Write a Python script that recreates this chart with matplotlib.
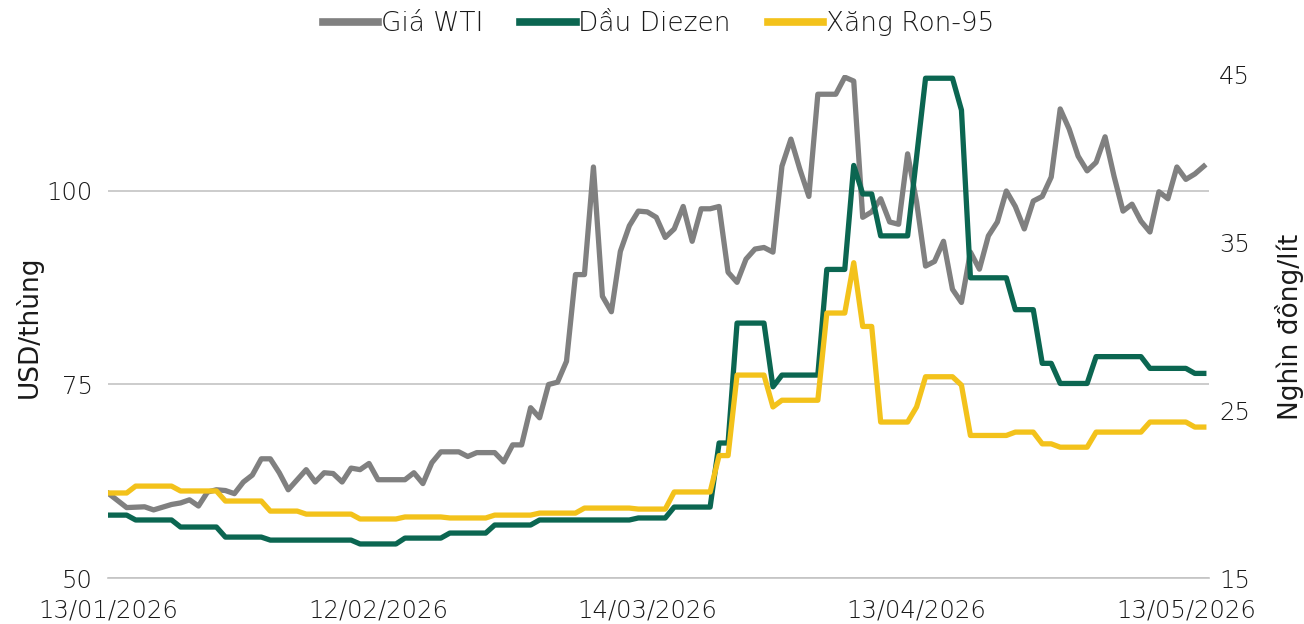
import matplotlib
matplotlib.use("Agg")
import matplotlib.pyplot as plt
import matplotlib.dates as mdates
import pandas as pd

plt.rcParams['font.family'] = ['DejaVu Sans']
plt.rcParams['font.weight'] = 'light'

start = pd.Timestamp('2026-01-13')

# Giá WTI (USD/thùng) - days since 13/01/2026
wti_day = [0, 2, 4, 5, 7, 8, 9, 10, 11, 12, 13, 14, 15, 16, 17, 18, 19, 20, 22, 23,
           24, 25, 26, 27, 28, 29, 30, 33, 34, 35, 36, 37, 39, 40, 41, 43, 44, 45, 46, 47,
           48, 49, 50, 51, 52, 53, 54, 55, 56, 57, 58, 59, 60, 61, 62, 63, 64, 65, 66, 67,
           68, 69, 70, 71, 72, 73, 74, 75, 76, 77, 78, 79, 81, 82, 83, 84, 85, 86, 87, 88,
           89, 90, 91, 92, 93, 94, 95, 96, 97, 98, 99, 100, 101, 102, 103, 104, 105, 106, 107, 108,
           109, 110, 111, 112, 113, 114, 115, 116, 117, 118, 119, 120, 121, 122]
wti = [60.9, 59.1, 59.2, 58.8, 59.5, 59.7, 60.1, 59.3, 61.1, 61.4, 61.3, 60.9, 62.4, 63.3, 65.4, 65.4, 63.6, 61.4, 64.0, 62.4,
       63.6, 63.5, 62.4, 64.2, 64.0, 64.8, 62.7, 62.7, 63.6, 62.2, 64.9, 66.3, 66.3, 65.7, 66.2, 66.2, 65.0, 67.2, 67.2, 72.0,
       70.7, 75.0, 75.3, 78.0, 89.2, 89.2, 103.1, 86.4, 84.4, 92.2, 95.5, 97.4, 97.3, 96.6, 94.0, 95.1, 98.0, 93.5, 97.7, 97.7,
       98.0, 89.5, 88.2, 91.2, 92.5, 92.7, 92.1, 103.2, 106.7, 102.8, 99.3, 112.5, 112.5, 114.7, 114.2, 96.6, 97.3, 99.0, 96.0, 95.7,
       104.8, 98.6, 90.3, 90.9, 93.5, 87.3, 85.6, 92.1, 89.9, 94.2, 96.0, 100.0, 98.0, 95.1, 98.7, 99.3, 101.8, 110.6, 108.0, 104.5,
       102.6, 103.7, 107.0, 101.9, 97.4, 98.3, 96.1, 94.7, 99.9, 99.0, 103.1, 101.5, 102.2, 103.2]

# Dầu Diezen (nghìn đồng/lít)
dsl_day = [0, 2, 3, 7, 8, 12, 13, 17, 18, 27, 28, 32, 33, 37, 38, 42, 43, 47, 48, 58,
           59, 62, 63, 67, 68, 69, 70, 73, 74, 75, 79, 80, 82, 83, 84, 85, 86, 89, 91, 94,
           95, 96, 100, 101, 103, 104, 105, 106, 109, 110, 115, 116, 120, 121, 122]
diesel = [18.75, 18.75, 18.46, 18.46, 18.04, 18.04, 17.44, 17.44, 17.26, 17.26, 17.03, 17.03, 17.38, 17.38, 17.68, 17.68, 18.16, 18.16, 18.46, 18.46,
          18.58, 18.58, 19.23, 19.23, 23.05, 23.05, 30.2, 30.2, 26.4, 27.1, 27.1, 33.4, 33.4, 39.6, 37.9, 37.9, 35.4, 35.4, 44.8, 44.8,
          42.9, 32.9, 32.9, 31.0, 31.0, 27.8, 27.8, 26.6, 26.6, 28.2, 28.2, 27.5, 27.5, 27.2, 27.2]

# Xăng Ron-95 (nghìn đồng/lít)
ron_day = [0, 2, 3, 7, 8, 12, 13, 17, 18, 21, 22, 27, 28, 32, 33, 37, 38, 42, 43, 47,
           48, 52, 53, 58, 59, 62, 63, 67, 68, 69, 70, 73, 74, 75, 79, 80, 82, 83, 84, 85,
           86, 89, 90, 91, 94, 95, 96, 100, 101, 103, 104, 105, 106, 109, 110, 115, 116, 120, 121, 122]
ron95 = [20.07, 20.07, 20.48, 20.48, 20.19, 20.19, 19.59, 19.59, 18.99, 18.99, 18.81, 18.81, 18.52, 18.52, 18.64, 18.64, 18.58, 18.58, 18.75, 18.75,
         18.87, 18.87, 19.17, 19.17, 19.11, 19.11, 20.13, 20.13, 22.3, 22.3, 27.1, 27.1, 25.2, 25.6, 25.6, 30.8, 30.8, 33.8, 30.0, 30.0,
         24.3, 24.3, 25.2, 27.0, 27.0, 26.5, 23.5, 23.5, 23.7, 23.7, 23.0, 23.0, 22.8, 22.8, 23.7, 23.7, 24.3, 24.3, 24.0, 24.0]

tick_days = [0, 30, 60, 90, 120]

to_dates = lambda days: start + pd.to_timedelta(days, unit='D')

c_wti = '#808080'
c_dsl = '#0B6651'
c_ron = '#F3C21B'
grid_c = '#C4C4C4'
txt_c = '#1A1A1A'

fig = plt.figure(figsize=(13.04, 6.24), dpi=100)
ax = fig.add_axes([0.0828, 0.0737, 0.8445, 0.8063])
ax2 = ax.twinx()

ax.plot(to_dates(wti_day), wti, color=c_wti, lw=3.8, label='Giá WTI', solid_joinstyle='round', zorder=3)
ax2.plot(to_dates(dsl_day), diesel, color=c_dsl, lw=3.8, label='Dầu Diezen', solid_joinstyle='round', zorder=3)
ax2.plot(to_dates(ron_day), ron95, color=c_ron, lw=3.8, label='Xăng Ron-95', solid_joinstyle='round', zorder=4)

ax.set_ylim(50, 115)
ax2.set_ylim(15, 45)
ax.set_xlim(start - pd.Timedelta(hours=2), start + pd.Timedelta(days=122.6))

ax.set_yticks([50, 75, 100])
ax2.set_yticks([15, 25, 35, 45])
ax.set_xticks(to_dates(tick_days))
ax.xaxis.set_major_formatter(mdates.DateFormatter('%d/%m/%Y'))

for a in (ax, ax2):
    for s in a.spines.values():
        s.set_visible(False)
    a.tick_params(length=0, labelsize=17.5, colors=txt_c)

ax.tick_params(axis='y', pad=11)
ax2.tick_params(axis='y', pad=7)
ax.tick_params(axis='x', pad=15)

ax.grid(axis='y', color=grid_c, lw=1.2, zorder=0)
ax.spines['bottom'].set_visible(True)
ax.spines['bottom'].set_color(grid_c)
ax.spines['bottom'].set_linewidth(1.2)

ax.set_ylabel('USD/thùng', fontsize=19, color=txt_c, labelpad=3)
ax2.set_ylabel('Nghìn đồng/lít', fontsize=19, color=txt_c, rotation=90, labelpad=18)

h1, l1 = ax.get_legend_handles_labels()
h2, l2 = ax2.get_legend_handles_labels()
leg = fig.legend(h1 + h2, l1 + l2, loc='upper center', bbox_to_anchor=(0.505, 1.02), ncol=3,
                 frameon=False, fontsize=19, handlelength=2.1, handletextpad=0.1, columnspacing=1.4)
for t in leg.get_texts():
    t.set_color(txt_c)
for ln in leg.get_lines():
    ln.set_linewidth(5.5)

fig.savefig('out.png', dpi=100)
